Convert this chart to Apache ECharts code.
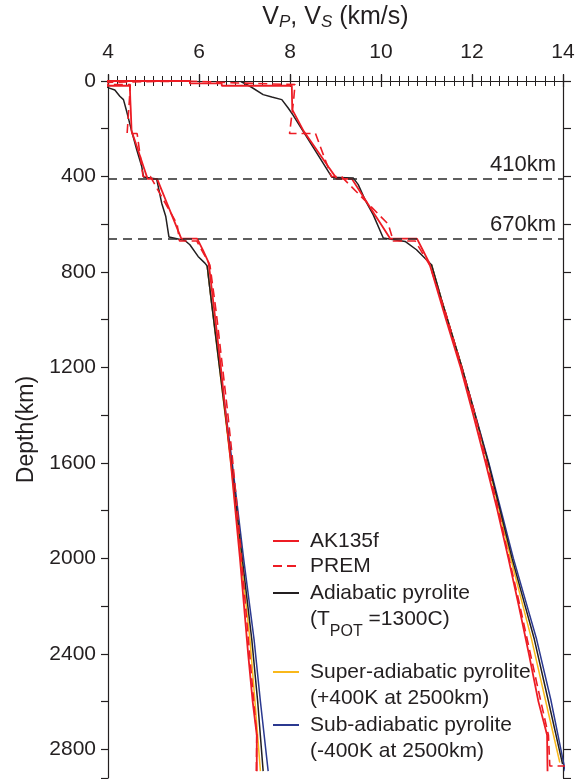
<!DOCTYPE html>
<html><head><meta charset="utf-8">
<script src="https://cdn.jsdelivr.net/npm/echarts@6/dist/echarts.min.js"></script>
<style>html,body{margin:0;padding:0;background:#fff}#c{width:575px;height:779px}</style>
</head><body><div id="c"></div>
<script>
// ---------- data ----------
const xTickLabels = [4, 6, 8, 10, 12, 14];
const yTickLabels = [0, 400, 800, 1200, 1600, 2000, 2400, 2800];
const seriesNames = ['AK135f', 'PREM', 'Adiabatic pyrolite', 'Super-adiabatic pyrolite', 'Sub-adiabatic pyrolite'];
const legendTexts = ['AK135f', 'PREM', '{b| }\nAdiabatic pyrolite\n(T{sub|POT} =1300C)',
  '{b| }\nSuper-adiabatic pyrolite\n(+400K at 2500km)', '{b| }\nSub-adiabatic pyrolite\n(-400K at 2500km)'];
const discDepths = [410, 660];
const discLabels = ['410km', '670km'];

// AK135f
const ak135Depth = [0,10,10,20,20,77.5,120,165,210,260,310,360,410,410,460,510,560,610,660,660,710,760,809.5,1000,1200,1400,1600,1800,2000,2200,2400,2600,2740,2891.5];
const ak135Vp = [5.80,5.80,6.50,6.50,8.04,8.045,8.05,8.175,8.30,8.482,8.665,8.847,9.03,9.36,9.528,9.696,9.864,10.032,10.20,10.79,10.923,11.056,11.135,11.43,11.75,12.03,12.30,12.56,12.80,13.03,13.25,13.46,13.65,13.66];
const ak135Vs = [3.46,3.46,3.85,3.85,4.48,4.49,4.50,4.509,4.518,4.609,4.696,4.783,4.87,5.08,5.186,5.292,5.398,5.505,5.611,5.96,6.089,6.21,6.242,6.36,6.48,6.59,6.70,6.80,6.90,6.99,7.08,7.18,7.27,7.27];

// PREM
const premVsDepth = [0,8,8,15,15,80,220,220,400,400,600,670,670,771,971,1171,1371,1571,1771,1971,2171,2371,2571,2741,2891];
const premVs = [3.20,3.20,3.90,3.90,4.49,4.47,4.42,4.64,4.77,4.93,5.52,5.57,5.95,6.24,6.38,6.50,6.62,6.73,6.83,6.92,7.01,7.10,7.19,7.27,7.26];
const premVpDepth = [0,8,8,15,15,80,220,220,400,400,600,670,670,771,971,1171,1371,1571,1771,1971,2171,2371,2571,2741,2870,2870];
const premVp = [5.80,5.80,6.80,6.80,8.11,8.08,7.99,8.56,8.91,9.13,10.16,10.27,10.75,11.07,11.42,11.73,12.03,12.29,12.55,12.78,13.02,13.25,13.48,13.68,13.71,14.20];

// Adiabatic pyrolite (Tpot = 1300C)
const adiaVsDepth = [22,30,38,64,78,127,210,287,357,402,411,512,568,654,668,686,735,763,775,903,1200,1600,2000,2339,2600,2891];
const adiaVs = [3.95,4.03,4.15,4.26,4.34,4.41,4.52,4.63,4.74,4.78,5.07,5.18,5.27,5.34,5.69,5.80,5.98,6.13,6.18,6.26,6.45,6.71,6.95,7.16,7.29,7.41];
const adiaVpDepth = [2,22,57,67,78,113,141,403,406,434,498,561,658,672,707,749,770,916,1200,1600,2000,2339,2590,2862];
const adiaVp = [6.92,7.12,7.41,7.60,7.82,7.96,8.06,8.92,9.39,9.50,9.65,9.83,10.05,10.53,10.78,11.00,11.11,11.33,11.78,12.36,12.88,13.37,13.67,13.99];

// Super-adiabatic pyrolite (+400K at 2500km)
const superVsDepth = [775,903,1200,1600,2000,2339,2600,2891];
const superVs = [6.18,6.26,6.45,6.70,6.92,7.12,7.23,7.35];
const superVpDepth = [770,916,1200,1600,2000,2339,2590,2855];
const superVp = [11.11,11.33,11.78,12.35,12.85,13.31,13.61,13.93];

// Sub-adiabatic pyrolite (-400K at 2500km)
const subVsDepth = [775,903,1200,1600,2000,2339,2600,2891];
const subVs = [6.18,6.26,6.46,6.73,6.98,7.21,7.35,7.52];
const subVpDepth = [770,916,1200,1600,2000,2339,2590,2891];
const subVp = [11.11,11.33,11.78,12.37,12.91,13.42,13.73,14.05];

// ---------- chart ----------
const FONT = '"Liberation Sans", Arial, Helvetica, sans-serif';
const INK = '#231f20';
const RED = '#ed1c24', YEL = '#f9b81b', BLUE = '#2b3990';
const pts = (v, d) => v.map((x, i) => [x, d[i]]);
const profile = (vsD, vs, vpD, vp) => pts(vs, vsD).reverse().concat(pts(vp, vpD));
const YMAX = 2920;

function lineSeries(name, data, color, width, type, extra) {
  return Object.assign({
    type: 'line', name, data, xAxisIndex: 0, yAxisIndex: 0,
    symbol: 'none', showSymbol: false, clip: true, animation: false, silent: true,
    lineStyle: { color, width, type: type || 'solid' }, itemStyle: { color }
  }, extra || {});
}

const series = [
  lineSeries(seriesNames[4], pts(subVs, subVsDepth), BLUE, 1.5),
  lineSeries(seriesNames[4], pts(subVp, subVpDepth), BLUE, 1.5),
  lineSeries(seriesNames[3], pts(superVs, superVsDepth), YEL, 1.5),
  lineSeries(seriesNames[3], pts(superVp, superVpDepth), YEL, 1.5),
  lineSeries(seriesNames[2], pts(adiaVs, adiaVsDepth), INK, 1.5),
  lineSeries(seriesNames[2], pts(adiaVp, adiaVpDepth), INK, 1.5),
  lineSeries(seriesNames[1], profile(premVsDepth, premVs, premVpDepth, premVp), RED, 1.6, [9, 5]),
  lineSeries(seriesNames[0], profile(ak135Depth, ak135Vs, ak135Depth, ak135Vp), RED, 1.8, 'solid', {
    markLine: {
      silent: true, symbol: ['none', 'none'], animation: false,
      lineStyle: { color: '#2a2a2a', type: [9, 6], width: 1.5 },
      label: { show: true, position: 'insideEndTop', formatter: '{b}', fontSize: 22, color: INK, fontFamily: FONT, distance: 3, padding: [0, 4, 0, 0] },
      data: discDepths.map((d, i) => ({ yAxis: d, name: discLabels[i] }))
    }
  })
];

const axisLineStyle = { color: INK, width: 1.2 };
const legendIconY = [541, 566, 593, 672, 725];
const legends = seriesNames.map((n, i) => ({
  orient: 'vertical', left: 272, top: legendIconY[i] - (i < 2 ? 13 : 39), padding: 0,
  itemWidth: 26, itemHeight: 14, itemGap: 0, selectedMode: false,
  data: [n], itemStyle: { opacity: 0 },
  formatter: () => legendTexts[i],
  textStyle: {
    fontFamily: FONT, fontSize: 21, lineHeight: 26, color: INK, padding: [0, 0, 0, 6],
    rich: {
      b: { fontSize: 21, lineHeight: 26 },
      sub: { fontSize: 16, lineHeight: 16, verticalAlign: 'top', padding: [18, 0, 0, 0], fontFamily: FONT, color: INK }
    }
  }
}));

const gridBox = { left: 108, right: 12, top: 81, bottom: 1, containLabel: false, outerBoundsMode: 'none' };

const option = {
  backgroundColor: '#ffffff',
  animation: false,
  textStyle: { fontFamily: FONT },
  grid: [Object.assign({}, gridBox), Object.assign({}, gridBox)],
  legend: legends,
  xAxis: [
    {
      type: 'value', gridIndex: 0, position: 'top', min: xTickLabels[0], max: xTickLabels[xTickLabels.length - 1], interval: 2,
      axisLine: { show: true, lineStyle: axisLineStyle },
      axisTick: { show: true, inside: true, length: 6, lineStyle: axisLineStyle },
      minorTick: { show: true, splitNumber: 10, length: 5, lineStyle: { color: INK, width: 1 } },
      splitLine: { show: false },
      axisLabel: { show: true, fontSize: 21, color: INK, fontFamily: FONT, margin: 18 },
      name: '{n|V}{i|P}{n|, V}{i|S}{n| (km/s)}',
      nameLocation: 'middle', nameGap: 50,
      nameTextStyle: {
        color: INK, fontFamily: FONT,
        rich: {
          n: { fontSize: 25, fontFamily: FONT, color: INK, lineHeight: 28 },
          i: { fontSize: 17, fontStyle: 'italic', fontFamily: FONT, color: INK, verticalAlign: 'bottom', lineHeight: 22 }
        }
      }
    },
    {
      type: 'value', gridIndex: 0, position: 'bottom', min: 4, max: 14, interval: 2,
      axisLine: { show: true, lineStyle: axisLineStyle },
      axisTick: { show: true, inside: true, length: 7, lineStyle: axisLineStyle },
      minorTick: { show: true, splitNumber: 10, length: 5, lineStyle: { color: INK, width: 1 } },
      splitLine: { show: false },
      axisLabel: { show: false }
    },
    {
      type: 'value', gridIndex: 1, position: 'top', min: 4, max: 14, interval: 2,
      axisLine: { show: false },
      axisTick: { show: true, inside: false, length: 6, lineStyle: axisLineStyle },
      splitLine: { show: false },
      axisLabel: { show: false }
    }
  ],
  yAxis: [
    {
      type: 'value', gridIndex: 0, position: 'left', inverse: true, min: 0, max: YMAX, interval: 200,
      axisLine: { show: true, lineStyle: axisLineStyle },
      axisTick: { show: true, inside: false, length: 7, lineStyle: axisLineStyle },
      splitLine: { show: false },
      axisLabel: {
        fontSize: 21, color: INK, fontFamily: FONT, margin: 12,
        formatter: v => (yTickLabels.indexOf(v) >= 0 ? String(v) : '')
      },
      name: 'Depth(km)', nameLocation: 'middle', nameGap: 59, nameRotate: 90,
      nameTextStyle: { fontSize: 23, color: INK, fontFamily: FONT }
    },
    {
      type: 'value', gridIndex: 0, position: 'right', inverse: true, min: 0, max: YMAX, interval: 200,
      axisLine: { show: true, lineStyle: axisLineStyle },
      axisTick: { show: true, inside: false, length: 8, lineStyle: axisLineStyle },
      splitLine: { show: false },
      axisLabel: { show: false }
    },
    {
      type: 'value', gridIndex: 1, position: 'left', inverse: true, min: 0, max: YMAX, show: false
    }
  ],
  series
};

const chart = echarts.init(document.getElementById('c'), null, { renderer: 'canvas' });
chart.setOption(option);
</script>
</body></html>
